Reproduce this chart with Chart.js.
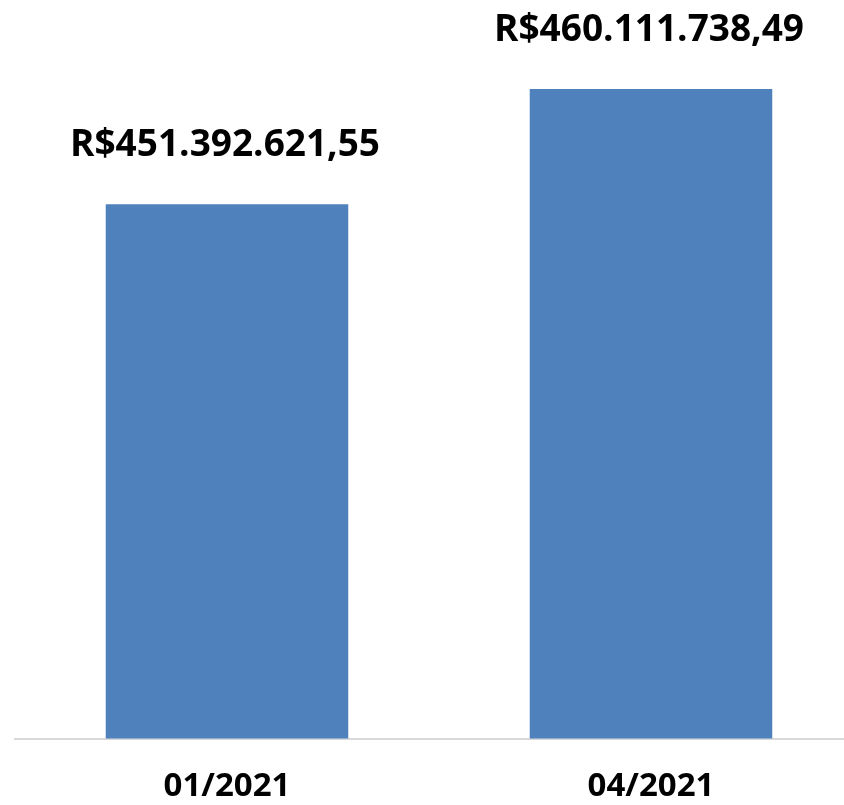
<!DOCTYPE html>
<html>
<head>
<meta charset="utf-8">
<script src="https://cdn.jsdelivr.net/npm/chart.js@4/dist/chart.umd.min.js"></script>
<style>
  html, body { margin: 0; padding: 0; background: #ffffff; overflow: hidden; }
  #wrap { position: absolute; left: 0; top: 0; width: 863px; height: 805px; }
</style>
</head>
<body>
<div id="wrap"><canvas id="c"></canvas></div>
<script>
const categories = ['01/2021', '04/2021'];
const values = [451392621.55, 460111738.49];
const axisMin = 411000000;
const axisMax = 465000000;

function formatBRL(v) {
  const fixed = v.toFixed(2);
  const parts = fixed.split('.');
  const intPart = parts[0].replace(/\B(?=(\d{3})+(?!\d))/g, '.');
  return 'R$' + intPart + ',' + parts[1];
}

const valueLabels = {
  id: 'valueLabels',
  afterDatasetsDraw(chart) {
    const ctx = chart.ctx;
    const meta = chart.getDatasetMeta(0);
    ctx.save();
    ctx.font = 'bold 37px "Open Sans"';
    ctx.fillStyle = '#000000';
    ctx.textAlign = 'center';
    ctx.textBaseline = 'alphabetic';
    meta.data.forEach((bar, i) => {
      ctx.fillText(formatBRL(values[i]), bar.x - 2, bar.y - 48);
    });
    ctx.restore();
  }
};

new Chart(document.getElementById('c'), {
  type: 'bar',
  data: {
    labels: categories,
    datasets: [{
      data: values,
      backgroundColor: '#4f81bd',
      borderWidth: 0,
      barPercentage: 0.572,
      categoryPercentage: 1.0
    }]
  },
  options: {
    responsive: true,
    maintainAspectRatio: false,
    animation: false,
    layout: { padding: { left: 15, right: 0, top: 24.4, bottom: 0 } },
    plugins: { legend: { display: false }, tooltip: { enabled: false } },
    scales: {
      x: {
        grid: { display: false, drawTicks: false },
        border: { display: true, color: '#d9d9d9', width: 2 },
        ticks: { color: '#000000', font: { family: '"Open Sans"', size: 33, weight: 'bold' }, padding: 28 },
        afterFit(scale) { scale.height = 805 - 738.5; }
      },
      y: {
        display: false,
        min: axisMin,
        max: axisMax
      }
    }
  },
  plugins: [valueLabels]
});
</script>
</body>
</html>
